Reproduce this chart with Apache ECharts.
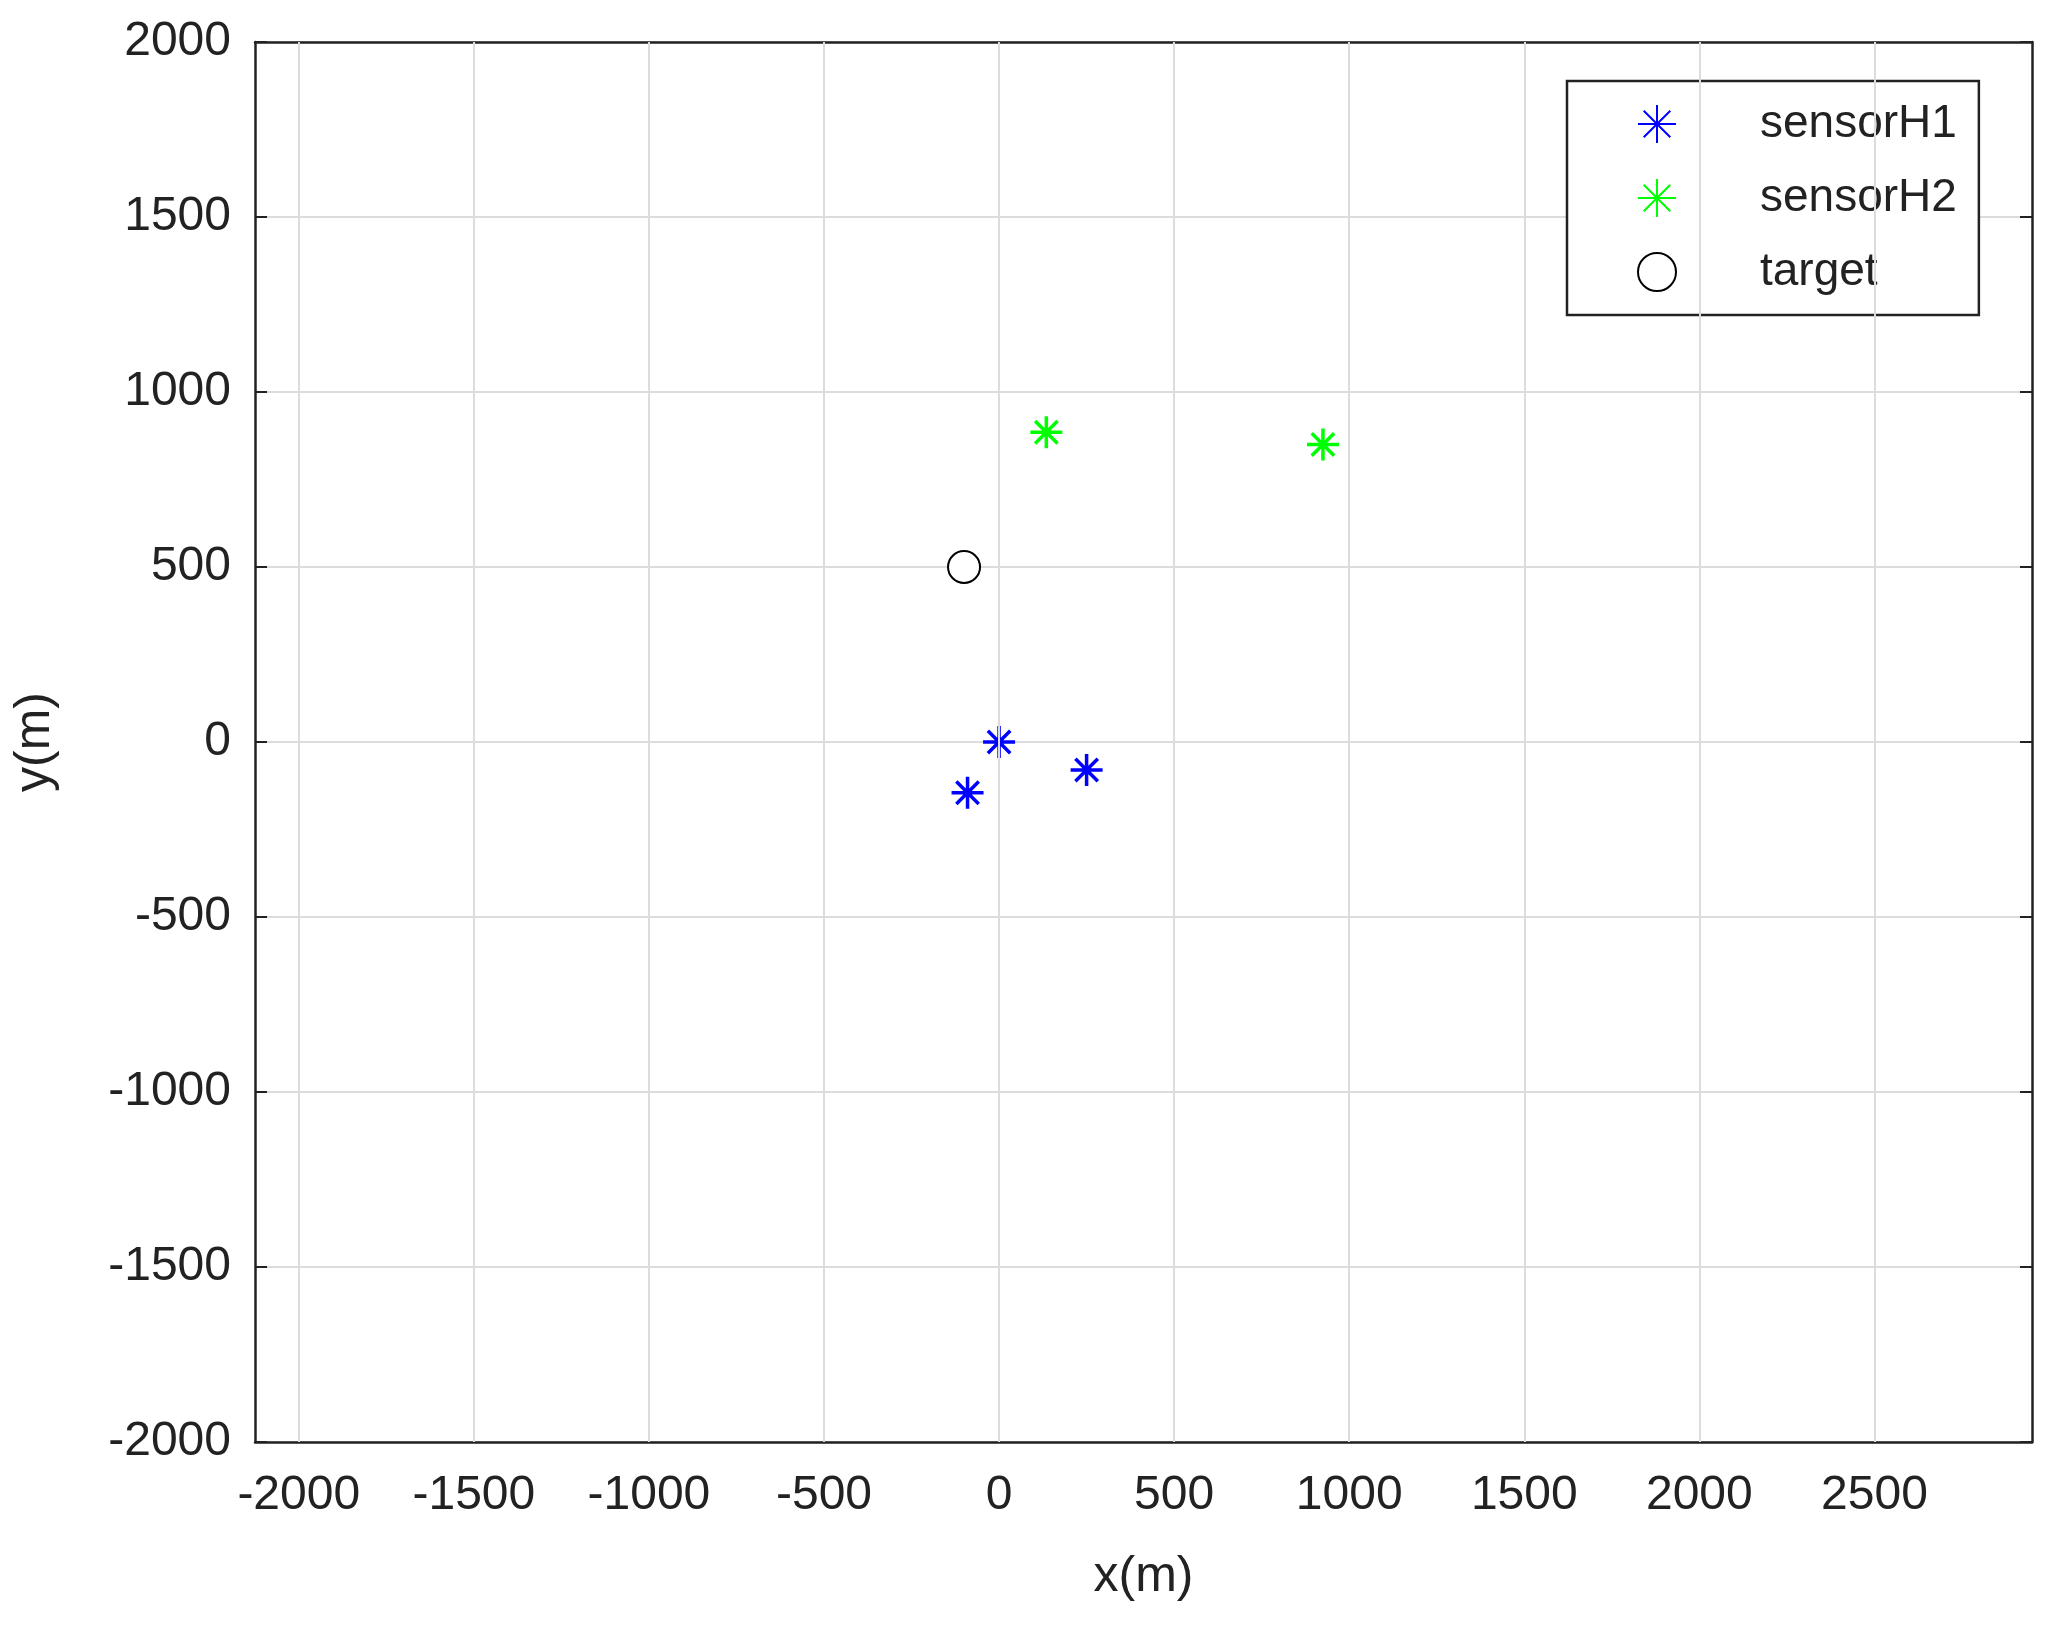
<!DOCTYPE html>
<html><head><meta charset="utf-8">
<script src="https://cdn.jsdelivr.net/npm/echarts@6/dist/echarts.min.js"></script>
<style>html,body{margin:0;padding:0;background:#fff}#c{width:2049px;height:1630px}</style>
</head><body><div id="c"></div>
<script>
const xTicks = [-2000,-1500,-1000,-500,0,500,1000,1500,2000,2500];
const sensorH1 = [[0,0],[-90,-145],[250,-80]];
const sensorH2 = [[135,885],[925,850]];
const target = [[-100,500]];
const star = 'path://M0,-10L0,10M-10,0L10,0M-7,-7L7,7M-7,7L7,-7';
const font = 'Liberation Sans';
const fmt = v => String(v);
const tick = {show:true,inside:true,length:12,lineStyle:{color:'#222',width:2}};
const line = {show:true,onZero:false,lineStyle:{color:'#222',width:2.5}};
const chart = echarts.init(document.getElementById('c'));
chart.setOption({
  animation:false,
  grid:{left:255,right:17,top:42,bottom:188,show:false},
  legend:{orient:'vertical',left:1567,top:81,padding:[20,22,20,70],itemGap:28,itemWidth:40,itemHeight:38,
    backgroundColor:'#fff',borderColor:'#222',borderWidth:2.5,borderRadius:0,
    textStyle:{fontFamily:font,fontSize:46,color:'#222',padding:[0,0,0,78]},
    data:['sensorH1','sensorH2','target']},
  xAxis:[{type:'value',min:-2125,max:2950,name:'x(m)',nameLocation:'middle',nameGap:110,
    nameTextStyle:{fontFamily:font,fontSize:50,color:'#222'},
    axisLine:line,splitLine:{show:false},
    axisTick:Object.assign({customValues:xTicks},tick),
    axisLabel:{customValues:xTicks,formatter:fmt,fontFamily:font,fontSize:48,color:'#222',margin:30}},
   {type:'value',position:'top',min:-2125,max:2950,axisLine:line,splitLine:{show:false},
    axisTick:Object.assign({customValues:xTicks},tick),axisLabel:{show:false}}],
  yAxis:[{type:'value',min:-2000,max:2000,interval:500,name:'y(m)',nameLocation:'middle',nameGap:195,
    nameTextStyle:{fontFamily:font,fontSize:50,color:'#222'},
    axisLine:line,
    splitLine:{show:true,lineStyle:{color:'#dcdcdc',width:2}},
    axisTick:tick,
    axisLabel:{formatter:fmt,fontFamily:font,fontSize:48,color:'#222',margin:24}},
   {type:'value',position:'right',min:-2000,max:2000,interval:500,axisLine:line,
    splitLine:{show:false},axisTick:tick,axisLabel:{show:false}}],
  series:[
    {type:'scatter',name:'grid',data:[],silent:true,
      markLine:{silent:true,symbol:'none',label:{show:false},lineStyle:{color:'#dcdcdc',width:2,type:'solid'},
        data:xTicks.map(v=>({xAxis:v}))}},
    {type:'scatter',name:'sensorH1',data:sensorH1,symbol:star,symbolSize:32,
      itemStyle:{color:'#0000ff',borderColor:'#0000ff',borderWidth:3.5,opacity:1}},
    {type:'scatter',name:'sensorH2',data:sensorH2,symbol:star,symbolSize:32,
      itemStyle:{color:'#00ff00',borderColor:'#00ff00',borderWidth:3.5,opacity:1}},
    {type:'scatter',name:'target',data:target,symbol:'emptyCircle',symbolSize:32,
      itemStyle:{color:'#000',borderColor:'#000',borderWidth:3,opacity:1}}
  ]
});
</script></body></html>
